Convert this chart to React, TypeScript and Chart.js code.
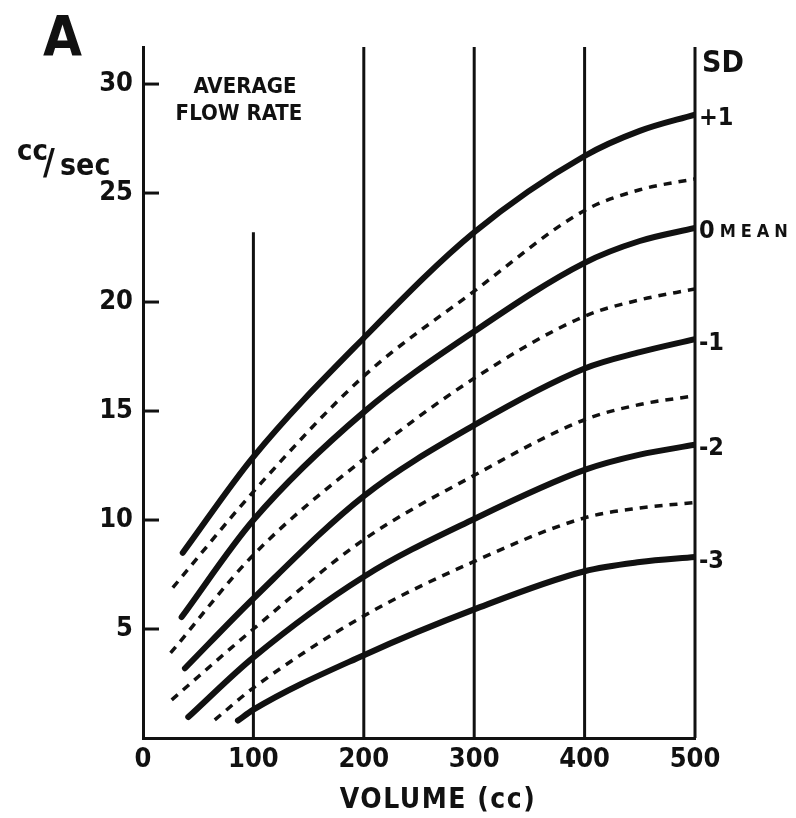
import React, { useEffect, useRef } from 'react';
import { Chart, registerables } from 'chart.js';

Chart.register(...registerables);

// ---- data ----
const X_TICKS = [0, 100, 200, 300, 400, 500];
const Y_TICKS = [5, 10, 15, 20, 25, 30];
const Y_MAX = 31.7;
const GRID_X = [100, 200, 300, 400, 500];
const GRID_TOP = [23.2, 31.7, 31.7, 31.7, 31.7];

const SD_P1_X = [36, 100, 200, 300, 400, 450, 500];
const SD_P1_Y = [8.5, 12.9, 18.35, 23.2, 26.7, 27.85, 28.6];
const SD_P05_X = [27, 100, 200, 300, 400, 450, 500];
const SD_P05_Y = [6.9, 11.3, 16.6, 20.5, 24.2, 25.15, 25.65];
const SD_0_X = [35, 100, 200, 300, 400, 450, 500];
const SD_0_Y = [5.55, 10.0, 14.95, 18.65, 21.8, 22.8, 23.4];
const SD_M05_X = [25, 100, 200, 300, 400, 450, 500];
const SD_M05_Y = [3.9, 8.4, 12.8, 16.5, 19.35, 20.1, 20.6];
const SD_M1_X = [38, 100, 200, 300, 400, 450, 500];
const SD_M1_Y = [3.2, 6.4, 11.1, 14.35, 16.95, 17.7, 18.3];
const SD_M15_X = [26, 100, 200, 300, 400, 450, 500];
const SD_M15_Y = [1.75, 5.0, 9.1, 12.05, 14.6, 15.3, 15.7];
const SD_M2_X = [41, 100, 200, 300, 400, 450, 500];
const SD_M2_Y = [0.96, 3.7, 7.4, 10.05, 12.3, 13.0, 13.45];
const SD_M25_X = [65, 100, 200, 300, 400, 450, 500];
const SD_M25_Y = [0.83, 2.3, 5.6, 8.1, 10.1, 10.55, 10.8];
const SD_M3_X = [86, 100, 200, 300, 400, 450, 500];
const SD_M3_Y = [0.8, 1.3, 3.8, 5.9, 7.65, 8.07, 8.3];

const END_LABELS = ['+1', '0', '-1', '-2', '-3'];
const MEAN_SUFFIX = 'MEAN';
const X_TITLE = 'VOLUME (cc)';

const FONT = "'DejaVu Sans Condensed', 'Liberation Sans Narrow', 'DejaVu Sans', sans-serif";
const INK = '#111';

function pts(xs: number[], ys: number[]) {
  return xs.map((x, i) => ({ x, y: ys[i] }));
}

const SOLID = [
  pts(SD_P1_X, SD_P1_Y),
  pts(SD_0_X, SD_0_Y),
  pts(SD_M1_X, SD_M1_Y),
  pts(SD_M2_X, SD_M2_Y),
  pts(SD_M3_X, SD_M3_Y),
];
const DASHED = [
  pts(SD_P05_X, SD_P05_Y),
  pts(SD_M05_X, SD_M05_Y),
  pts(SD_M15_X, SD_M15_Y),
  pts(SD_M25_X, SD_M25_Y),
];

const decor = {
  id: 'decor',
  beforeDraw(chart: any) {
    const ctx = chart.ctx;
    ctx.save();
    ctx.fillStyle = '#fff';
    ctx.fillRect(0, 0, chart.width, chart.height);
    ctx.restore();
  },
  beforeDatasetsDraw(chart: any) {
    const { ctx, scales } = chart;
    const x = scales.x, y = scales.y;
    ctx.save();
    ctx.strokeStyle = INK;
    ctx.lineWidth = 3;
    GRID_X.forEach((v, i) => {
      const px = x.getPixelForValue(v);
      ctx.beginPath();
      ctx.moveTo(px, y.getPixelForValue(GRID_TOP[i]));
      ctx.lineTo(px, y.getPixelForValue(0));
      ctx.stroke();
    });
    const x0 = x.getPixelForValue(0);
    Y_TICKS.forEach((v) => {
      const py = y.getPixelForValue(v);
      ctx.beginPath();
      ctx.moveTo(x0, py);
      ctx.lineTo(x0 + 16, py);
      ctx.stroke();
    });
    ctx.restore();
  },
  afterDraw(chart: any) {
    const { ctx, scales } = chart;
    const x = scales.x, y = scales.y;
    ctx.save();
    ctx.fillStyle = INK;
    ctx.textBaseline = 'alphabetic';
    ctx.textAlign = 'left';
    // panel letter
    ctx.font = `bold 56px ${FONT}`;
    ctx.fillText('A', 43, 55);
    // title
    ctx.textAlign = 'center';
    ctx.font = `bold 22px ${FONT}`;
    ctx.fillText('AVERAGE', 245, 93);
    ctx.fillText('FLOW RATE', 239, 120);
    // x title
    ctx.font = `bold 28px ${FONT}`;
    (ctx as any).letterSpacing = '1.5px';
    ctx.fillText(X_TITLE, 438, 808);
    (ctx as any).letterSpacing = '0px';
    // y unit
    ctx.textAlign = 'left';
    ctx.font = `bold 29px ${FONT}`;
    ctx.fillText('cc', 17, 160);
    ctx.font = `bold 36px ${FONT}`;
    ctx.fillText('/', 43, 174);
    ctx.font = `bold 30px ${FONT}`;
    ctx.fillText('sec', 60, 175);
    // SD header
    ctx.font = `bold 30px ${FONT}`;
    ctx.fillText('SD', 702, 72);
    // end labels
    ctx.textBaseline = 'middle';
    SOLID.forEach((s, i) => {
      const last = s[s.length - 1];
      const px = x.getPixelForValue(last.x) + 4;
      const py = y.getPixelForValue(last.y) + 4;
      ctx.font = `bold 25px ${FONT}`;
      ctx.fillText(END_LABELS[i], px, py);
      if (END_LABELS[i] === '0') {
        const w = ctx.measureText('0').width;
        ctx.font = `bold 18px ${FONT}`;
        (ctx as any).letterSpacing = '5px';
        ctx.fillText(MEAN_SUFFIX, px + w + 5, py);
        (ctx as any).letterSpacing = '0px';
      }
    });
    ctx.restore();
  },
};

export default function App() {
  const ref = useRef<HTMLCanvasElement | null>(null);
  useEffect(() => {
    if (!ref.current) return;
    const datasets: any[] = [];
    SOLID.forEach((d) =>
      datasets.push({
        data: d,
        borderColor: INK,
        borderWidth: 6,
        borderCapStyle: 'round',
        borderJoinStyle: 'round',
        cubicInterpolationMode: 'monotone',
        pointRadius: 0,
        fill: false,
      })
    );
    DASHED.forEach((d) =>
      datasets.push({
        data: d,
        borderColor: INK,
        borderWidth: 3.5,
        borderDash: [8, 7],
        borderCapStyle: 'butt',
        cubicInterpolationMode: 'monotone',
        pointRadius: 0,
        fill: false,
      })
    );
    const tickFont = { family: FONT, size: 27, weight: 'bold' as const };
    const chart = new Chart(ref.current, {
      type: 'line',
      data: { datasets },
      plugins: [decor],
      options: {
        animation: false,
        responsive: false,
        maintainAspectRatio: false,
        layout: { padding: { left: 0, top: 47, right: 101, bottom: 0 } },
        plugins: {
          legend: { display: false },
          tooltip: { enabled: false },
        },
        elements: { point: { radius: 0 } },
        scales: {
          x: {
            type: 'linear',
            min: 0,
            max: 500,
            afterFit: (s: any) => {
              s.height = 80;
            },
            afterBuildTicks: (s: any) => {
              s.ticks = X_TICKS.map((v) => ({ value: v }));
            },
            ticks: { font: tickFont, color: INK, padding: 6, maxRotation: 0, autoSkip: false },
            grid: { display: false, drawTicks: false },
            border: { display: true, color: INK, width: 3 },
            title: { display: false },
          },
          y: {
            type: 'linear',
            min: 0,
            max: Y_MAX,
            afterFit: (s: any) => {
              s.width = 143;
            },
            afterBuildTicks: (s: any) => {
              s.ticks = Y_TICKS.map((v) => ({ value: v }));
            },
            ticks: { font: tickFont, color: INK, padding: 10 },
            grid: { display: false, drawTicks: false },
            border: { display: true, color: INK, width: 3 },
          },
        },
      } as any,
    });
    return () => chart.destroy();
  }, []);
  return (
    <div style={{ position: 'absolute', left: 0, top: 0, width: 796, height: 818, background: '#fff' }}>
      <canvas ref={ref} width={796} height={818} style={{ width: 796, height: 818, display: 'block' }} />
    </div>
  );
}
